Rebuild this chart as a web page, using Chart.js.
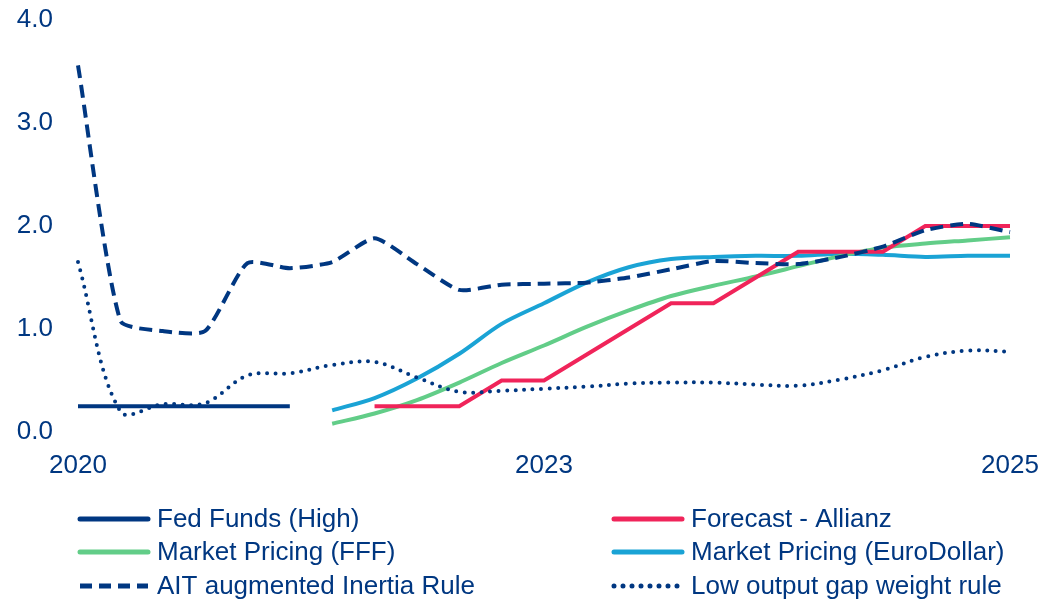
<!DOCTYPE html>
<html>
<head>
<meta charset="utf-8">
<title>Fed Funds vs policy rules</title>
<script src="https://cdn.jsdelivr.net/npm/chart.js@4/dist/chart.umd.min.js"></script>
<style>
    html, body { margin: 0; padding: 0; background: #ffffff; }
    #wrap { width: 1049px; height: 599px; position: relative; }
</style>
</head>
<body>
<div id="wrap"><canvas id="rateChart"></canvas></div>
<script>
// --- Data (quarterly points 2020 -> 2025) ---
const labels = ['2020', '', '', '', '', '', '', '', '', '', '', '2023',
                '', '', '', '', '', '', '', '', '', '', '2025'];

const fedFundsHigh = [0.25, 0.25, 0.25, 0.25, 0.25, 0.25,
    null, null, null, null, null, null, null, null, null, null, null, null, null, null, null, null, null];

const forecastAllianz = [null, null, null, null, null, null, null,
    0.25, 0.25, 0.25, 0.50, 0.50, 0.75, 1.00, 1.25, 1.25, 1.50, 1.75, 1.75, 1.75, 2.00, 2.00, 2.00];

const marketFFF = [null, null, null, null, null, null,
    0.08, 0.18, 0.31, 0.48, 0.67, 0.84, 1.02, 1.18, 1.32, 1.42, 1.51, 1.61, 1.71, 1.79, 1.83, 1.86, 1.89];

const marketEuroDollar = [null, null, null, null, null, null,
    0.21, 0.33, 0.52, 0.76, 1.05, 1.25, 1.45, 1.60, 1.68, 1.70, 1.71, 1.71, 1.73, 1.72, 1.70, 1.71, 1.71];

const aitInertiaRule = [3.56, 1.08, 0.98, 0.98, 1.64, 1.59, 1.65, 1.88, 1.63, 1.38, 1.43, 1.44,
    1.45, 1.50, 1.58, 1.66, 1.64, 1.63, 1.70, 1.80, 1.96, 2.02, 1.94];

const lowGapRule = [1.65, 0.20, 0.27, 0.28, 0.55, 0.57, 0.65, 0.68, 0.53, 0.39, 0.40, 0.42,
    0.44, 0.47, 0.48, 0.48, 0.46, 0.45, 0.51, 0.60, 0.73, 0.79, 0.78];

// --- Colours / fonts ---
const NAVY = '#003781';
const RED = '#f0245a';
const GREEN = '#62cd88';
const LIGHT_BLUE = '#1aa3d5';
const FONT = '"Liberation Sans", Arial, sans-serif';
const FONT_SIZE = 26;

document.addEventListener('DOMContentLoaded', () => {

    const ctx = document.getElementById('rateChart').getContext('2d');

    // legend drawn in two fixed columns below the axis (Chart.js legend can't do columns)
    const columnLegend = {
        id: 'columnLegend',
        afterDraw(chart) {
            const c = chart.ctx;
            const cols = [78, 612];
            const rows = [519, 552, 586];
            const lineLen = 70;
            chart.data.datasets.forEach((ds, k) => {
                const x = cols[k % 2];
                const y = rows[Math.floor(k / 2)];
                c.save();
                c.strokeStyle = ds.borderColor;
                c.lineWidth = 5;
                c.lineCap = ds.legendCap || 'round';
                c.setLineDash(ds.legendDash || []);
                c.beginPath();
                c.moveTo(x + 2, y);
                c.lineTo(x + lineLen, y);
                c.stroke();
                c.restore();

                c.save();
                c.fillStyle = NAVY;
                c.font = FONT_SIZE + 'px ' + FONT;
                c.textBaseline = 'middle';
                c.textAlign = 'left';
                c.fillText(ds.label, x + lineLen + 9, y + 1);
                c.restore();
            });
        }
    };

    const datasets = [
        {
            label: 'Fed Funds (High)',
            data: fedFundsHigh,
            borderColor: NAVY,
            borderWidth: 4,
            tension: 0,
            order: 3
        },
        {
            label: 'Forecast - Allianz',
            data: forecastAllianz,
            borderColor: RED,
            borderWidth: 4,
            tension: 0,
            order: 4
        },
        {
            label: 'Market Pricing (FFF)',
            data: marketFFF,
            borderColor: GREEN,
            borderWidth: 4,
            tension: 0.3,
            order: 5
        },
        {
            label: 'Market Pricing (EuroDollar)',
            data: marketEuroDollar,
            borderColor: LIGHT_BLUE,
            borderWidth: 4,
            tension: 0.3,
            order: 6
        },
        {
            label: 'AIT augmented Inertia Rule',
            data: aitInertiaRule,
            borderColor: NAVY,
            borderWidth: 4,
            borderDash: [13, 7],
            tension: 0.2,
            order: 1,
            legendDash: [12, 7],
            legendCap: 'butt'
        },
        {
            label: 'Low output gap weight rule',
            data: lowGapRule,
            borderColor: NAVY,
            borderWidth: 4,
            borderDash: [0, 8.5],
            borderCapStyle: 'round',
            tension: 0.35,
            order: 2,
            legendDash: [0, 9],
            legendCap: 'round'
        }
    ];

    new Chart(ctx, {
        type: 'line',
        data: { labels: labels, datasets: datasets },
        options: {
            responsive: true,
            maintainAspectRatio: false,
            animation: false,
            spanGaps: false,
            elements: { point: { radius: 0 } },
            layout: { padding: { top: 20, right: 39, bottom: 0, left: 0 } },
            plugins: {
                legend: { display: false },
                tooltip: { enabled: false }
            },
            scales: {
                x: {
                    // tick marks hidden; tickLength only used as label gap
                    grid: { display: false, drawTicks: true, tickLength: 18 },
                    border: { display: false },
                    ticks: {
                        autoSkip: false,
                        maxRotation: 0,
                        padding: 0,
                        color: NAVY,
                        font: { family: FONT, size: FONT_SIZE }
                    },
                    afterFit(scale) { scale.height = 167; }
                },
                y: {
                    min: 0,
                    max: 4,
                    grid: { display: false, drawTicks: true, tickLength: 25 },
                    border: { display: false },
                    ticks: {
                        stepSize: 1,
                        padding: 0,
                        color: NAVY,
                        font: { family: FONT, size: FONT_SIZE },
                        callback: (v) => v.toFixed(1)
                    },
                    afterFit(scale) { scale.width = 78; }
                }
            }
        },
        plugins: [columnLegend]
    });
});
</script>
</body>
</html>
